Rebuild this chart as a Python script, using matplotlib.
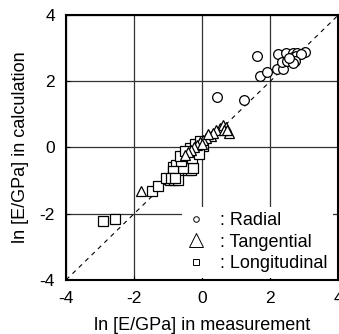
import matplotlib
matplotlib.use("Agg")
import matplotlib.pyplot as plt
from matplotlib.lines import Line2D

plt.rcParams['font.family'] = ['Liberation Sans', 'DejaVu Sans']
plt.rcParams['axes.unicode_minus'] = False

# radial
rad_x = [0.42, 1.24, 1.62, 1.70, 1.91, 2.21, 2.38, 2.24, 2.46, 2.68, 2.80, 3.02,
         2.35, 2.48, 2.63, 2.68, 2.77, 2.90, 2.73, 2.68, 2.55]
rad_y = [1.51, 1.42, 2.77, 2.16, 2.28, 2.38, 2.38, 2.82, 2.84, 2.85, 2.84, 2.87,
         2.57, 2.62, 2.65, 2.72, 2.77, 2.82, 2.62, 2.55, 2.70]

# tangential
tan_x = [0.53, 0.62, 0.71, 0.79, 0.41, 0.26, 0.12, 0.03, -0.06, -0.15, -0.24,
         -0.32, -0.41, -0.50, 0.32, 0.18, 0.65, 0.74, 0.00, -1.80]
tan_y = [0.58, 0.67, 0.61, 0.45, 0.52, 0.36, 0.30, 0.24, 0.15, 0.06, 0.00,
         -0.09, -0.15, -0.24, 0.45, 0.42, 0.52, 0.52, 0.09, -1.32]

# longitudinal
lon_x = [-0.85, -0.41, -0.33, -0.95, -0.82, -0.71, -0.76, -0.56, -1.49, -1.29,
         -2.91, -2.55, -0.26, -0.61, -0.66, -0.46, -0.36, -0.21, -0.51, -0.31,
         -0.17, -0.07, -0.85, -1.05, -0.93, -0.80, 0.02, -0.10]
lon_y = [-0.60, -0.69, -0.67, -0.97, -0.97, -0.97, -0.52, -0.62, -1.32, -1.15,
         -2.23, -2.16, -0.62, -0.41, -0.26, -0.21, -0.01, 0.09, -0.11, -0.31,
         -0.11, 0.19, -0.72, -0.92, -0.92, -0.92, 0.05, -0.20]

ticks = [-4, -2, 0, 2, 4]

fig = plt.figure(figsize=(3.39, 3.34), dpi=100)
ax = fig.add_axes([0.195, 0.162, 0.803, 0.793])

ax.plot([-4, 4], [-4, 4], ls=(0, (4, 4)), color='black', lw=0.8, zorder=1)
ax.plot(lon_x, lon_y, ls='none', marker='s', ms=6.5, mfc='white', mec='black', mew=0.9, zorder=2)
ax.plot(tan_x, tan_y, ls='none', marker='^', ms=7.5, mfc='white', mec='black', mew=0.9, zorder=3)
ax.plot(rad_x, rad_y, ls='none', marker='o', ms=7, mfc='white', mec='black', mew=0.9, zorder=4)

ax.set_xlim(-4, 4)
ax.set_ylim(-4, 4)
ax.set_xticks(ticks)
ax.set_yticks(ticks)
ax.grid(True, color='#333333', lw=0.9)
ax.set_axisbelow(True)
ax.tick_params(direction='in', labelsize=12.5, length=3, pad=8)
for s in ax.spines.values():
    s.set_linewidth(1.5)

ax.set_xlabel('ln [E/GPa] in measurement', fontsize=13, labelpad=8)
ax.set_ylabel('ln [E/GPa] in calculation', fontsize=13, labelpad=8)

handles = [
    Line2D([], [], ls='none', marker='o', ms=4, mfc='white', mec='black', mew=0.7),
    Line2D([], [], ls='none', marker='^', ms=10, mfc='white', mec='black', mew=0.7),
    Line2D([], [], ls='none', marker='s', ms=4.5, mfc='white', mec='black', mew=0.7),
]
leg = ax.legend(handles, [': Radial', ': Tangential', ': Longitudinal'],
                loc='upper left', bbox_to_anchor=(0.425, 0.276), fontsize=13,
                frameon=True, fancybox=False, framealpha=1,
                handlelength=1.0, handletextpad=0.8,
                labelspacing=0.25, borderpad=0.3, borderaxespad=0)
leg.get_frame().set_linewidth(0)
leg.set_zorder(2.2)

fig.savefig('out.png', dpi=100)
